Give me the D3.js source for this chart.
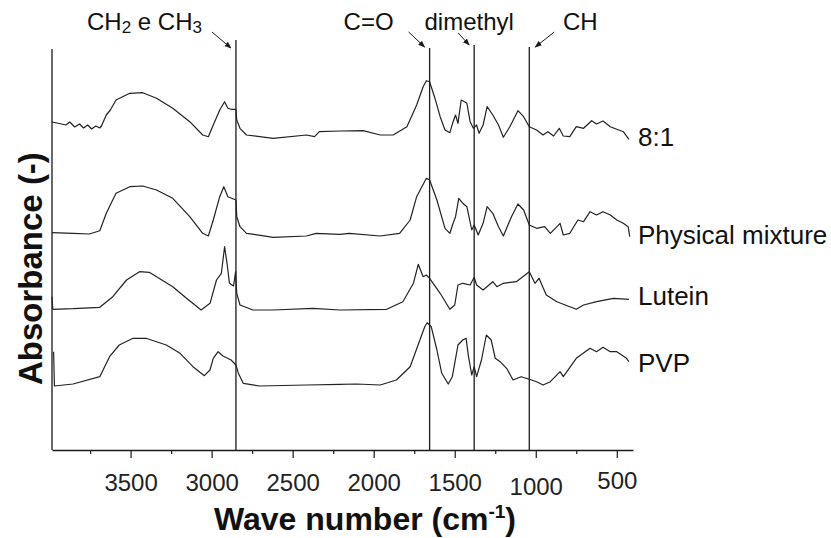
<!DOCTYPE html>
<html>
<head>
<meta charset="utf-8">
<script src="https://cdn.jsdelivr.net/npm/d3@7"></script>
<style>
  body { margin: 0; background: #fff; }
  svg { display: block; font-family: "Liberation Sans", Arial, sans-serif; }
</style>
</head>
<body>
<div class="ftir-chart"></div>
<script>
// spectra: [wave number, absorbance (stacked, a.u.)]
const spec81 = [[3985,3.28],[3940,3.265],[3900,3.25],[3875,3.28],[3845,3.23],[3815,3.26],[3790,3.22],[3765,3.25],[3740,3.21],[3715,3.24],[3690,3.22],[3680,3.24],
  [3650,3.35],[3625,3.40],[3590,3.50],[3505,3.567],[3425,3.573],[3340,3.517],[3240,3.417],[3135,3.283],[3055,3.15],[3020,3.133],
  [2990,3.25],[2950,3.40],[2920,3.483],[2900,3.417],[2880,3.407],[2850,3.407],[2845,3.30],[2825,3.217],[2785,3.15],[2620,3.117],
  [2415,3.15],[2365,3.133],[2335,3.183],[2210,3.19],[2065,3.193],[1960,3.15],[1880,3.15],[1795,3.233],[1735,3.45],[1695,3.633],
  [1675,3.693],[1655,3.683],[1625,3.533],[1590,3.333],[1560,3.20],[1530,3.173],[1510,3.283],[1495,3.35],[1480,3.267],[1460,3.50],
  [1440,3.483],[1425,3.467],[1405,3.283],[1385,3.217],[1365,3.25],[1350,3.167],[1325,3.25],[1300,3.433],[1265,3.35],[1230,3.25],
  [1200,3.127],[1160,3.233],[1110,3.393],[1075,3.333],[1040,3.233],[995,3.20],[955,3.15],[925,3.183],[890,3.14],[855,3.217],
  [830,3.14],[790,3.133],[750,3.233],[705,3.217],[655,3.293],[625,3.26],[585,3.29],[540,3.233],[460,3.183],[425,3.107]];

const specMix = [[3985,2.173],[3855,2.167],[3755,2.16],[3690,2.193],[3650,2.367],[3590,2.567],[3505,2.633],[3425,2.64],[3340,2.60],
  [3240,2.517],[3135,2.333],[3055,2.167],[3020,2.14],[2990,2.30],[2950,2.533],[2925,2.633],[2900,2.533],[2850,2.50],[2845,2.333],
  [2825,2.233],[2785,2.167],[2620,2.127],[2415,2.14],[2355,2.167],[2210,2.157],[2150,2.167],[1960,2.14],[1840,2.167],[1775,2.30],
  [1735,2.533],[1675,2.717],[1655,2.70],[1610,2.50],[1560,2.217],[1530,2.167],[1510,2.267],[1495,2.333],[1475,2.517],[1450,2.467],
  [1425,2.433],[1395,2.20],[1380,2.25],[1355,2.15],[1325,2.267],[1300,2.433],[1265,2.367],[1230,2.233],[1200,2.14],[1150,2.333],
  [1110,2.46],[1075,2.40],[1040,2.25],[995,2.217],[945,2.233],[910,2.167],[850,2.267],[830,2.15],[790,2.167],[740,2.30],[705,2.283],
  [665,2.383],[625,2.35],[585,2.383],[540,2.35],[500,2.30],[460,2.267],[430,2.233],[420,2.133]];

const specLutein = [[3985,1.533],[3980,1.407],[3855,1.413],[3690,1.427],[3610,1.533],[3525,1.70],[3445,1.783],[3385,1.777],[3240,1.633],
  [3155,1.517],[3065,1.40],[3010,1.467],[2970,1.70],[2940,1.767],[2920,2.033],[2905,1.867],[2890,1.667],[2865,1.64],[2852,1.783],
  [2845,1.567],[2825,1.45],[2745,1.40],[2620,1.40],[2375,1.417],[2210,1.40],[1920,1.407],[1820,1.483],[1755,1.667],[1725,1.857],
  [1695,1.733],[1675,1.75],[1655,1.717],[1590,1.567],[1530,1.407],[1500,1.45],[1480,1.65],[1450,1.667],[1405,1.65],[1380,1.727],
  [1365,1.65],[1325,1.60],[1265,1.683],[1240,1.633],[1200,1.667],[1120,1.683],[1040,1.783],[1005,1.667],[980,1.717],[935,1.55],
  [870,1.483],[790,1.433],[750,1.407],[705,1.45],[625,1.483],[520,1.517],[425,1.507]];

const specPVP = [[3975,0.983],[3970,0.64],[3855,0.66],[3690,0.733],[3630,0.933],[3570,1.05],[3485,1.117],[3405,1.117],[3280,1.05],
  [3195,0.967],[3115,0.833],[3045,0.743],[3010,0.80],[2990,0.917],[2960,0.983],[2930,0.94],[2880,0.90],[2850,0.85],[2835,0.767],
  [2805,0.667],[2705,0.64],[2415,0.65],[2210,0.657],[2105,0.66],[1960,0.65],[1860,0.70],[1775,0.833],[1715,1.10],[1685,1.233],
  [1670,1.273],[1645,1.233],[1610,1.00],[1580,0.767],[1540,0.66],[1515,0.733],[1500,0.867],[1480,1.05],[1450,1.10],[1430,1.117],
  [1415,0.933],[1395,0.75],[1380,0.833],[1365,0.733],[1335,0.90],[1305,1.15],[1275,1.10],[1250,0.917],[1220,0.883],[1180,0.817],
  [1140,0.70],[1090,0.733],[1040,0.707],[995,0.683],[955,0.65],[910,0.683],[850,0.783],[830,0.733],[750,0.917],[665,1.017],
  [625,0.983],[585,1.027],[540,0.983],[500,0.983],[440,0.917],[425,0.883]];

const seriesNames = ['8:1', 'Physical mixture', 'Lutein', 'PVP'];
const seriesData = [spec81, specMix, specLutein, specPVP];

// marker lines
const bandNames = ['CH2 e CH3', 'C=O', 'dimethyl', 'CH'];
const bandWaves = [2850, 1655, 1380, 1040];

const majorTicks = [3500, 3000, 2500, 2000, 1500, 1000, 500];
const minorTicks = [3750, 3250, 2750, 2250, 1750, 1250, 750];

const svg = d3.select('.ftir-chart')
  .append('svg')
  .attr('width', 831)
  .attr('height', 538);

const x = d3.scaleLinear().domain([3985, 400]).range([52, 633]);
const y = d3.scaleLinear().domain([0, 4.1]).range([450, 40]);

const ink = '#1a1a1a';

// axes
const gx = svg.append('g').attr('transform', 'translate(0,450)');
gx.call(d3.axisBottom(x).tickValues(majorTicks).tickSize(8).tickSizeOuter(0).tickPadding(16).tickFormat(d3.format('d')));
gx.select('.domain').attr('stroke', ink).attr('stroke-width', 1.3);
gx.selectAll('.tick line').attr('stroke', ink).attr('stroke-width', 1.2);
gx.selectAll('.tick text')
  .attr('font-size', 24)
  .attr('font-family', '"Liberation Sans", Arial, sans-serif')
  .attr('fill', '#222')
  .attr('dy', d => d === 1000 ? '0.87em' : (d === 500 ? '0.63em' : '0.71em'));

svg.append('g').attr('transform', 'translate(0,450)')
  .call(d3.axisBottom(x).tickValues(minorTicks).tickSize(4).tickFormat(''))
  .call(g => g.select('.domain').remove())
  .selectAll('.tick line').attr('stroke', ink).attr('stroke-width', 1.2);

// left spine
svg.append('line')
  .attr('x1', x(3985)).attr('x2', x(3985))
  .attr('y1', 49).attr('y2', 450)
  .attr('stroke', ink).attr('stroke-width', 1.3);

// axis titles
const xt = svg.append('text')
  .attr('x', 214).attr('y', 530)
  .attr('font-size', 32).attr('font-weight', 'bold').attr('fill', '#111');
xt.append('tspan').text('Wave number (cm');
xt.append('tspan').attr('font-size', 19).attr('dy', -12).text('-1');
xt.append('tspan').attr('dy', 12).text(')');

svg.append('text')
  .attr('transform', 'translate(42,385) rotate(-90)')
  .attr('font-size', 33).attr('font-weight', 'bold').attr('fill', '#111')
  .text('Absorbance (-)');

// band lines
const lineTops = [40, 48, 45, 47];
svg.selectAll('.band')
  .data(bandWaves)
  .enter()
  .append('line')
  .attr('class', 'band')
  .attr('x1', d => x(d)).attr('x2', d => x(d))
  .attr('y1', (d, i) => lineTops[i]).attr('y2', 450)
  .attr('stroke', ink).attr('stroke-width', 1.3);

// spectra
const line = d3.line().x(d => x(d[0])).y(d => y(d[1]));
svg.selectAll('.spec')
  .data(seriesData)
  .enter()
  .append('path')
  .attr('class', 'spec')
  .attr('d', line)
  .attr('fill', 'none')
  .attr('stroke', '#222')
  .attr('stroke-width', 1.2)
  .attr('stroke-linejoin', 'round');

// series labels
const labelY = [146, 244, 305, 372];
svg.selectAll('.slabel')
  .data(seriesNames)
  .enter()
  .append('text')
  .attr('class', 'slabel')
  .attr('x', 638)
  .attr('y', (d, i) => labelY[i])
  .attr('font-size', 26)
  .attr('fill', '#111')
  .text(d => d);

// band annotations
svg.append('defs').append('marker')
  .attr('id', 'arr')
  .attr('viewBox', '0 0 10 10')
  .attr('refX', 9).attr('refY', 5)
  .attr('markerWidth', 7).attr('markerHeight', 7)
  .attr('orient', 'auto')
  .append('path').attr('d', 'M0,1 L10,5 L0,9 Z').attr('fill', ink);

const t1 = svg.append('text').attr('x', 87).attr('y', 30).attr('font-size', 24).attr('fill', '#111');
t1.append('tspan').text('CH');
t1.append('tspan').attr('font-size', 17).attr('dy', 3).text('2');
t1.append('tspan').attr('dy', -3).text(' e CH');
t1.append('tspan').attr('font-size', 17).attr('dy', 3).text('3');

const labelShift = [0, -61, -5, 51];
svg.selectAll('.blabel')
  .data(bandWaves.slice(1))
  .enter()
  .append('text')
  .attr('class', 'blabel')
  .attr('x', (d, i) => x(d) + labelShift[i + 1])
  .attr('y', 30)
  .attr('text-anchor', 'middle')
  .attr('font-size', 24)
  .attr('fill', '#111')
  .text((d, i) => bandNames[i + 1]);

const arrows = [[-24, 32, -5, 48], [-21, 32, -5, 47], [-16, 33, -5, 45], [25, 32, 6, 47]];
svg.selectAll('.arrow')
  .data(bandWaves)
  .enter()
  .append('line')
  .attr('class', 'arrow')
  .attr('x1', (d, i) => x(d) + arrows[i][0]).attr('y1', (d, i) => arrows[i][1])
  .attr('x2', (d, i) => x(d) + arrows[i][2]).attr('y2', (d, i) => arrows[i][3])
  .attr('stroke', ink).attr('stroke-width', 1)
  .attr('marker-end', 'url(#arr)');
</script>
</body>
</html>
